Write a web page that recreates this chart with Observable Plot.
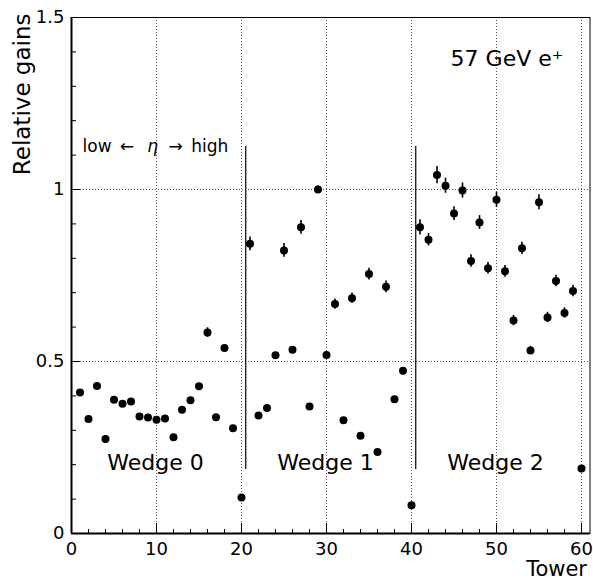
<!DOCTYPE html>
<html>
<head>
<meta charset="utf-8">
<script src="https://cdn.jsdelivr.net/npm/d3@7"></script>
<script src="https://cdn.jsdelivr.net/npm/@observablehq/plot@0.6"></script>
<style>
  html, body { margin: 0; padding: 0; background: #fff; }
  #chart svg { display: block; }
</style>
</head>
<body>
<div id="chart"></div>
<script>
// ---- data ----
const towers = [1,2,3,4,5,6,7,8,9,10,11,12,13,14,15,16,17,18,19,20,
                21,22,23,24,25,26,27,28,29,30,31,32,33,34,35,36,37,38,39,40,
                41,42,43,44,45,46,47,48,49,50,51,52,53,54,55,56,57,58,59,60];
const gains = [0.410,0.333,0.429,0.275,0.389,0.377,0.384,0.340,0.337,0.331,
               0.334,0.280,0.360,0.387,0.428,0.584,0.338,0.539,0.306,0.105,
               0.842,0.343,0.365,0.518,0.823,0.534,0.890,0.369,1.000,0.519,
               0.667,0.329,0.684,0.284,0.754,0.237,0.717,0.390,0.473,0.082,
               0.890,0.854,1.042,1.011,0.930,0.997,0.792,0.904,0.771,0.970,
               0.762,0.619,0.829,0.532,0.963,0.628,0.734,0.641,0.705,0.189];
const errors = [0.008,0.008,0.008,0.008,0.008,0.008,0.008,0.008,0.008,0.008,
                0.008,0.008,0.008,0.008,0.008,0.014,0.008,0.010,0.008,0.008,
                0.020,0.008,0.008,0.008,0.020,0.008,0.020,0.008,0.010,0.008,
                0.015,0.008,0.015,0.008,0.017,0.008,0.017,0.008,0.008,0.008,
                0.022,0.018,0.025,0.022,0.020,0.022,0.018,0.020,0.017,0.022,
                0.017,0.015,0.018,0.012,0.022,0.015,0.017,0.015,0.017,0.008];

const xMajorTicks = [0,10,20,30,40,50,60];
const xMinorTicks = [2,4,6,8,12,14,16,18,22,24,26,28,32,34,36,38,42,44,46,48,52,54,56,58];
const yMajorTicks = [0,0.5,1,1.5];
const yMinorTicks = [0.1,0.2,0.3,0.4,0.6,0.7,0.8,0.9,1.1,1.2,1.3,1.4];
const xGrid = [10,20,30,40,50,60];
const yGrid = [0.5,1];

const separatorX = [20.5, 40.5];
const separatorBottom = 0.186;
const separatorTop = 1.125;

const wedgeLabels = ["Wedge 0","Wedge 1","Wedge 2"];
const wedgeLabelX = [4.2, 24.2, 44.2];
const wedgeLabelY = 0.186;

const etaParts = ["low\u2002\u2190", "\u03B7", "\u2192\u2002high"];
const etaPartX = [1.3, 8.9, 11.4];
const etaPartStyle = ["normal", "italic", "normal"];
const etaLabelY = 1.108;
const beamLabel = "57 GeV e\u207A";
const beamLabelX = 44.6, beamLabelY = 1.36;

const xTitle = "Tower";
const yTitle = "Relative gains";

// ---- build ----
const points = towers.map((t, i) => ({tower: t, gain: gains[i], err: errors[i]}));
const wedges = wedgeLabels.map((l, i) => ({label: l, x: wedgeLabelX[i], y: wedgeLabelY}));
const etaUpright = etaParts.map((p, i) => ({label: p, x: etaPartX[i], y: etaLabelY, style: etaPartStyle[i]})).filter(d => d.style === "normal");
const etaItalic = etaParts.map((p, i) => ({label: p, x: etaPartX[i], y: etaLabelY, style: etaPartStyle[i]})).filter(d => d.style === "italic");

const W = 593, H = 581;
const mL = 71, mR = 3.5, mT = 17, mB = 48;
const frameW = W - mL - mR, frameH = H - mT - mB;
const font = "DejaVu Sans";

const chart = Plot.plot({
  width: W,
  height: H,
  marginLeft: mL,
  marginRight: mR,
  marginTop: mT,
  marginBottom: mB,
  style: {fontFamily: font, fontSize: "18px", background: "#fff", color: "#000"},
  x: {domain: [0, 61]},
  y: {domain: [0, 1.5]},
  marks: [
    // grid
    Plot.ruleX(xGrid, {x: d => d, stroke: "#555", strokeDasharray: "1,2", strokeWidth: 1}),
    Plot.ruleY(yGrid, {y: d => d, stroke: "#555", strokeDasharray: "1,2", strokeWidth: 1}),
    // frame
    Plot.frame({stroke: "#000", strokeWidth: 1}),
    Plot.ruleX([0], {x: d => d, stroke: "#000", strokeWidth: 2}),
    Plot.ruleY([0], {y: d => d, stroke: "#000", strokeWidth: 2}),
    // inward ticks
    Plot.tickX(xMajorTicks, {x: d => d, insetTop: frameH - 10, stroke: "#000", strokeWidth: 1}),
    Plot.tickX(xMinorTicks, {x: d => d, insetTop: frameH - 4, stroke: "#000", strokeWidth: 1}),
    Plot.tickY(yMajorTicks, {y: d => d, insetRight: frameW - 9, stroke: "#000", strokeWidth: 1}),
    Plot.tickY(yMinorTicks, {y: d => d, insetRight: frameW - 5, stroke: "#000", strokeWidth: 1}),
    // tick labels
    Plot.axisX({ticks: xMajorTicks, tickSize: 0, tickPadding: 9, tickFormat: d => String(d), label: null, fontSize: 18}),
    Plot.axisY({ticks: yMajorTicks, tickSize: 0, tickPadding: 7, tickFormat: d => String(d), label: null, fontSize: 18}),
    // separators
    Plot.ruleX(separatorX, {x: d => d, y1: separatorBottom, y2: separatorTop, stroke: "#000", strokeWidth: 1.2}),
    // error bars and points
    Plot.ruleX(points, {x: "tower", y1: d => d.gain - d.err, y2: d => d.gain + d.err, stroke: "#000", strokeWidth: 1.6}),
    Plot.dot(points, {x: "tower", y: "gain", r: 4, fill: "#000", stroke: "none"}),
    // in-plot labels
    Plot.text(wedges, {x: "x", y: "y", text: "label", textAnchor: "start", lineAnchor: "bottom", fontSize: 22, fill: "#000"}),
    Plot.text(etaUpright, {x: "x", y: "y", text: "label", textAnchor: "start", lineAnchor: "bottom", fontSize: 17, fill: "#000"}),
    Plot.text(etaItalic, {x: "x", y: "y", text: "label", textAnchor: "start", lineAnchor: "bottom", fontSize: 17, fontStyle: "italic", fill: "#000"}),
    Plot.text([beamLabel], {x: beamLabelX, y: beamLabelY, textAnchor: "start", lineAnchor: "bottom", fontSize: 22, fill: "#000"}),
    // axis titles
    Plot.text([yTitle], {frameAnchor: "top-left", rotate: -90, textAnchor: "end", lineAnchor: "bottom", dx: -42, dy: -4, fontSize: 23, fill: "#000"}),
    Plot.text([xTitle], {frameAnchor: "bottom-right", textAnchor: "end", lineAnchor: "bottom", dx: -3, dy: 42, fontSize: 21, fill: "#000"})
  ]
});
document.getElementById("chart").appendChild(chart);
</script>
</body>
</html>
